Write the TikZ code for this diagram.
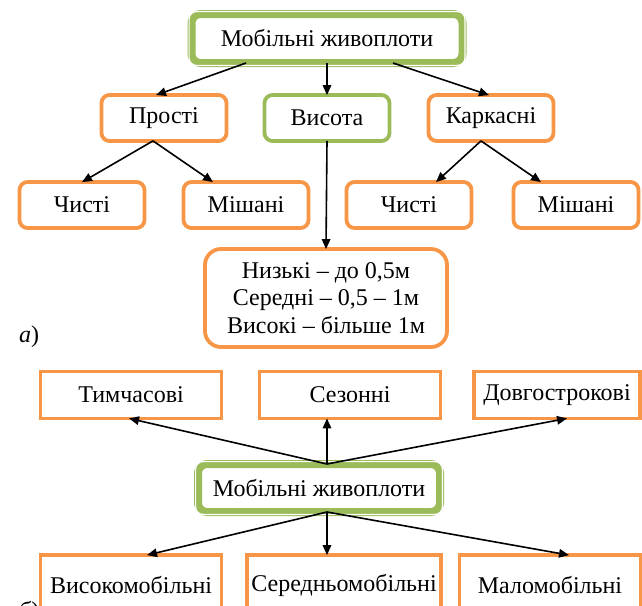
\documentclass[tikz,border=0pt]{standalone}
\usepackage{fontspec}
\setmainfont{Liberation Serif}
\usetikzlibrary{arrows.meta}
\definecolor{org}{HTML}{F79646}
\definecolor{grn}{HTML}{9BBB59}
\begin{document}
\begin{tikzpicture}[x=1pt,y=-1pt,font=\fontsize{24}{27.5}\selectfont,
  box/.style={draw=org,line width=3.8pt,rounded corners=8pt,minimum width=125pt,minimum height=46pt,inner sep=0pt,align=center},
  vbox/.style={box,draw=grn},
  sbox/.style={draw=org,line width=3.8pt,minimum width=181pt,minimum height=47pt,inner sep=0pt},
  gbox/.style={draw=grn,line width=8pt,rounded corners=9pt,inner sep=0pt},
  inner/.style={draw=white,line width=1.2pt,rounded corners=7.4pt},
  arr/.style={-{Triangle[length=10pt,width=8.5pt]},line width=1.6pt}]
\useasboundingbox (0,0) rectangle (642,605);
\clip (0,0) rectangle (642,605);
% ---------- part a ----------
\node[gbox,minimum width=271pt,minimum height=49pt] (top) at (327,38.5) {Мобільні живоплоти};
\draw[inner] ([shift={(1.6,1.6)}]top.north west) rectangle ([shift={(-1.6,-1.6)}]top.south east);
\node[box] (pr) at (164,118) {Прості};
\node[vbox] (vy) at (327,118) {Висота};
\node[box] (ka) at (491,118) {Каркасні};
\node[box] (c1) at (82,205) {Чисті};
\node[box] (m1) at (246,205) {Мішані};
\node[box] (c2) at (409,205) {Чисті};
\node[box] (m2) at (576,205) {Мішані};
\node[box,rounded corners=16pt,minimum width=242pt,minimum height=98pt] (hb) at (326,298)
  {Низькі – до 0,5м\\Середні – 0,5 – 1м\\Високі – більше 1м};
\node (la) at (29,337) {\textit{а})};
\draw[arr] ([xshift=-81,yshift=4]top.south) -- ([xshift=-8,yshift=-2]pr.north);
\draw[arr] ([yshift=4]top.south) -- ([yshift=-2]vy.north);
\draw[arr] ([xshift=66,yshift=4]top.south) -- ([xshift=-2,yshift=-2]ka.north);
\draw[arr] ([xshift=-11,yshift=2]pr.south) -- ([yshift=-2]c1.north);
\draw[arr] ([xshift=-11,yshift=2]pr.south) -- ([xshift=-33,yshift=-2]m1.north);
\draw[arr] ([xshift=-10,yshift=2]ka.south) -- ([xshift=27,yshift=-2]c2.north);
\draw[arr] ([xshift=-10,yshift=2]ka.south) -- ([xshift=-35,yshift=-2]m2.north);
\draw[arr] ([yshift=2]vy.south) -- ([yshift=-2]hb.north);
% ---------- part b ----------
\node[sbox] (t1) at (131,395) {Тимчасові};
\node[sbox] (s1) at (350,395) {Сезонні};
\node[sbox,minimum width=166pt] (d1) at (557,395) {Довгострокові};
\node[gbox,minimum width=242pt,minimum height=48pt] (mb) at (319,488) {Мобільні живоплоти};
\draw[inner] ([shift={(1.6,1.6)}]mb.north west) rectangle ([shift={(-1.6,-1.6)}]mb.south east);
\draw[arr] ([xshift=8,yshift=-4]mb.north) -- ([xshift=-2,yshift=2]t1.south);
\draw[arr] ([xshift=8,yshift=-4]mb.north) -- ([xshift=-23,yshift=2]s1.south);
\draw[arr] ([xshift=8,yshift=-4]mb.north) -- ([xshift=10,yshift=2]d1.south);
\node[sbox,minimum height=60pt] (v1) at (131,585) {Високомобільні};
\node[sbox,minimum width=194pt,minimum height=60pt] (sm) at (344,585) {\raisebox{3pt}{Середньомобільні}};
\node[sbox,minimum height=60pt] (ml) at (550,585) {Маломобільні};
\node (lb) at (29,612) {\textit{б})};
\draw[arr] ([xshift=8,yshift=4]mb.south) -- ([xshift=16,yshift=-2]v1.north);
\draw[arr] ([xshift=8,yshift=4]mb.south) -- ([xshift=-17,yshift=-2]sm.north);
\draw[arr] ([xshift=8,yshift=4]mb.south) -- ([xshift=19,yshift=-2]ml.north);
\end{tikzpicture}
\end{document}
